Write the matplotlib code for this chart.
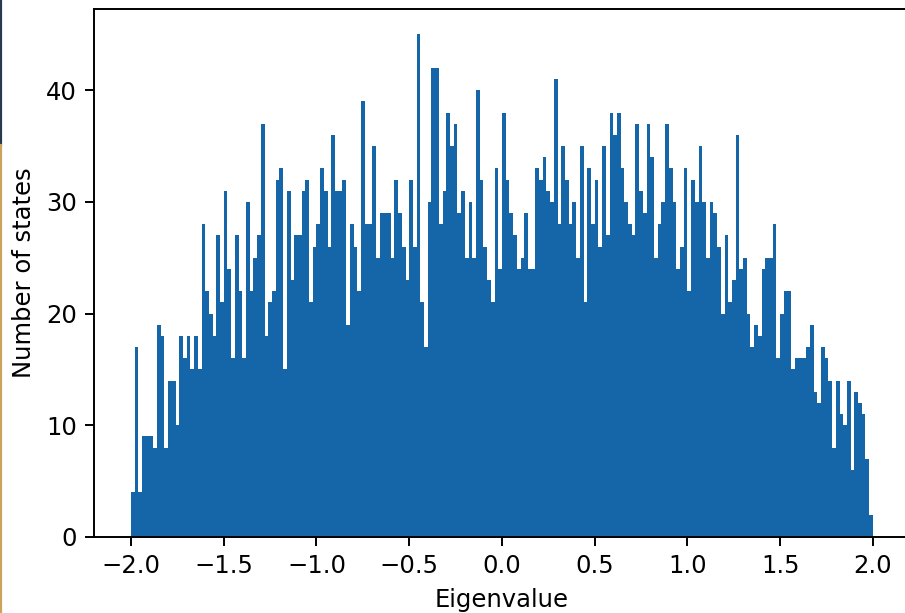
import numpy as np
import matplotlib
matplotlib.use('Agg')
import matplotlib.pyplot as plt
from matplotlib.lines import Line2D

# counts per bin (200 bins between -2 and 2)
counts_a = [4, 17, 4, 9, 9, 9, 8, 19, 18, 8, 14, 14, 10, 18, 16, 18, 15, 18, 15, 28,
            22, 20, 18, 27, 21, 31, 24, 16, 27, 22, 16, 30, 22, 25]
counts_b = [27, 37, 18, 21, 22, 32, 33, 15, 31, 23, 27, 27, 31, 32, 21, 26, 28, 33, 31, 26,
            36, 31, 31, 32, 19, 28, 26, 22, 39, 28, 28, 35, 25]
counts_c = [29, 29, 29, 25, 32, 29, 26, 23, 32, 26, 45, 21, 17, 30, 42, 42, 28, 31, 38, 35,
            37, 29, 31, 25, 30, 25, 40, 32, 26, 23, 21, 33, 24]
counts_d = [38, 32, 29, 27, 24, 25, 29, 24, 24, 33, 32, 34, 31, 30, 41, 28, 35, 32, 28, 30,
            25, 35, 21, 33, 28, 32, 26, 35, 27, 38, 36, 38, 33, 30]
counts_e = [28, 27, 37, 31, 29, 37, 34, 25, 28, 30, 37, 33, 30, 24, 26, 33, 22, 32, 30, 35,
            30, 25]
counts_f = [30, 29, 26, 20, 27, 21, 23, 36, 24, 25, 20, 17, 19, 18, 24, 25, 25, 28, 16, 20,
            22, 22]
counts_g = [15, 16, 16, 16, 17, 19, 13, 12, 17, 16, 14, 8, 14, 11, 10, 14, 6, 13, 12, 11,
            7, 2]

x_ticks = [-2.0, -1.5, -1.0, -0.5, 0.0, 0.5, 1.0, 1.5, 2.0]
y_ticks = [0, 10, 20, 30, 40]

counts = np.array(counts_a + counts_b + counts_c + counts_d + counts_e + counts_f + counts_g)
edges = np.linspace(-2.0, 2.0, len(counts) + 1)
centers = 0.5 * (edges[:-1] + edges[1:])

plt.rcParams['font.family'] = ['DejaVu Sans']

DPI = 175
fig = plt.figure(figsize=(905 / DPI, 613 / DPI), dpi=DPI)
ax = fig.add_axes([0.1038, 0.124, 0.9017, 0.861])

ax.hist(centers, bins=edges, weights=counts, color='#1565a9')

ax.set_xlim(-2.2, 2.2)
ax.set_ylim(0, counts.max() * 1.05)
ax.set_xticks(x_ticks)
ax.set_yticks(y_ticks)
ax.spines['right'].set_visible(False)  # cut off in the screenshot

ax.set_xlabel('Eigenvalue')
ax.set_ylabel('Number of states')

# thin strip at the left edge of the screenshot
fig.add_artist(Line2D([0.0012, 0.0012], [1.0, 0.763], transform=fig.transFigure,
                      color='#26394d', lw=0.9))
fig.add_artist(Line2D([0.0012, 0.0012], [0.763, 0.0], transform=fig.transFigure,
                      color='#c9a45a', lw=0.9))

fig.savefig('out.png', dpi=DPI)
